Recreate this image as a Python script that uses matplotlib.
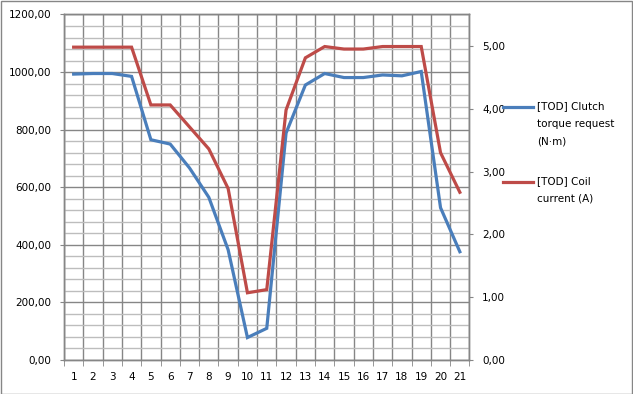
import matplotlib
matplotlib.use("Agg")
import matplotlib.pyplot as plt
from matplotlib.ticker import FuncFormatter, MultipleLocator
from matplotlib.lines import Line2D
from matplotlib.patches import Rectangle

# x categories
steps = list(range(1, 22))

# [TOD] Clutch torque request (N·m), left axis
torque = [993, 995, 995, 985, 765, 750, 667, 565, 383, 78, 110,
          788, 955, 995, 981, 981, 990, 987, 1002, 529, 376]

# [TOD] Coil current (A), right axis
current = [4.98, 4.98, 4.98, 4.98, 4.06, 4.06, 3.71, 3.36, 2.73, 1.07, 1.12,
           3.98, 4.81, 4.99, 4.95, 4.95, 4.99, 4.99, 4.99, 3.30, 2.67]

labels = ["[TOD] Clutch\ntorque request\n(N\u00b7m)", "[TOD] Coil\ncurrent (A)"]

BLUE = "#4a7ebb"
RED = "#be4b48"
GRID_DARK = "#868686"
GRID_LIGHT = "#bdbdbd"

plt.rcParams['font.family'] = ['DejaVu Sans']
plt.rcParams['font.size'] = 7.5


def comma(v, pos):
    return ("%.2f" % v).replace(".", ",")


fig = plt.figure(figsize=(6.33, 3.94), dpi=100)
ax = fig.add_axes([0.1011, 0.0863, 0.6406, 0.8769])
ax2 = ax.twinx()

ax.set_xlim(0.5, 21.5)
ax.set_ylim(0, 1200)
ax2.set_ylim(0, 5.5)

# grid
ax.yaxis.set_major_locator(MultipleLocator(200))
ax.yaxis.set_minor_locator(MultipleLocator(40))
ax.grid(which="minor", axis="y", color=GRID_LIGHT, linewidth=1.0)
ax.grid(which="major", axis="y", color=GRID_DARK, linewidth=1.0)
ax.xaxis.set_major_locator(MultipleLocator(1))
ax.xaxis.set_minor_locator(MultipleLocator(1, offset=0.5))
ax.grid(which="minor", axis="x", color=GRID_DARK, linewidth=1.0)
ax.set_axisbelow(True)

ax.plot(steps, torque, color=BLUE, linewidth=2.3, solid_joinstyle="miter", zorder=3)
ax2.plot(steps, current, color=RED, linewidth=2.3, solid_joinstyle="miter", zorder=3)

ax.yaxis.set_major_formatter(FuncFormatter(comma))
ax2.yaxis.set_major_locator(MultipleLocator(1))
ax2.yaxis.set_major_formatter(FuncFormatter(comma))
ax2.yaxis.set_minor_locator(plt.NullLocator())

ax.tick_params(axis="y", which="major", length=3, color=GRID_DARK, pad=6)
ax.tick_params(axis="y", which="minor", length=0)
ax.tick_params(axis="x", which="major", length=0, pad=9)
ax.tick_params(axis="x", which="minor", length=4, color=GRID_DARK)
ax2.tick_params(axis="y", length=3, color=GRID_DARK, pad=6)

for a in (ax, ax2):
    for s in a.spines.values():
        s.set_color(GRID_DARK)
        s.set_linewidth(1.0)

# legend, marker lined up with the first text line
W, H = 633.0, 394.0
for ly, lab, col in [(107, labels[0], BLUE), (182, labels[1], RED)]:
    fig.add_artist(Line2D([503 / W, 533 / W], [1 - ly / H, 1 - ly / H],
                          color=col, linewidth=2.3, transform=fig.transFigure))
    fig.text(537 / W, 1 - (ly - 6) / H, lab, ha="left", va="top",
             linespacing=1.95, fontsize=7.5)

# chart border
fig.add_artist(Rectangle((0.5 / W, 0.5 / H), 1 - 1.5 / W, 1 - 1.5 / H,
                         transform=fig.transFigure, fill=False,
                         edgecolor=GRID_DARK, linewidth=1.0))

fig.savefig("out.png", dpi=100)
